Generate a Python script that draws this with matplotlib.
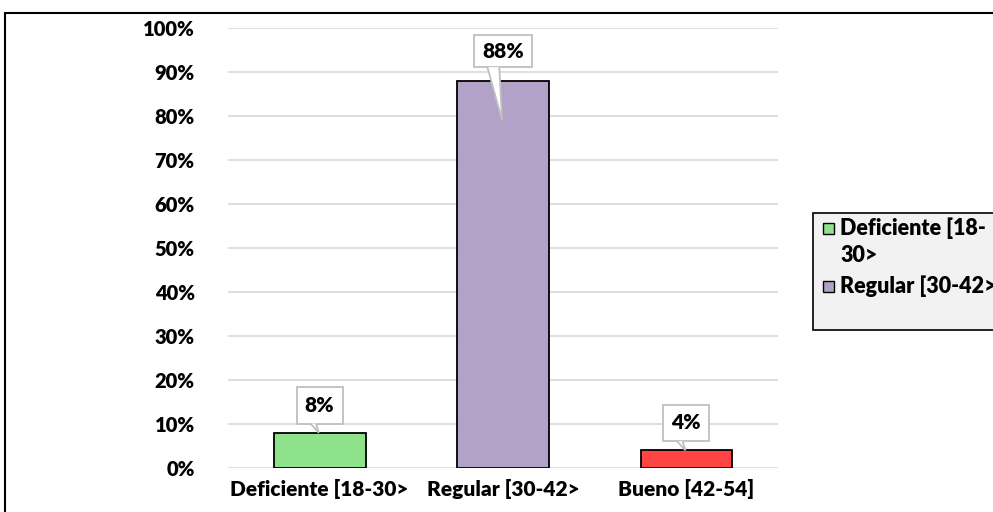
import matplotlib.pyplot as plt
from matplotlib.patches import Rectangle, Polygon
from matplotlib.ticker import PercentFormatter

# datos del grafico
categorias = ['Deficiente [18-30>', 'Regular [30-42>', 'Bueno [42-54]']
porcentajes = [8, 88, 4]
colores = ['#8ee28b', '#b3a2c8', '#ff4444']
etiquetas_leyenda = ['Deficiente [18-', '30>', 'Regular [30-42>']

peso = 'heavy'
plt.rcParams['font.family'] = ['Lato', 'DejaVu Sans']
plt.rcParams['font.weight'] = peso

W, H = 993, 512
fig = plt.figure(figsize=(W / 100, H / 100), dpi=100)
ax = fig.add_axes([228 / W, 44 / H, 550 / W, 440 / H])

x = list(range(len(categorias)))
barras = ax.bar(x, porcentajes, width=0.5, color=colores, edgecolor='black', linewidth=1.3, zorder=3)

ax.set_xlim(-0.5, 2.5)
ax.set_ylim(0, 100)
ax.set_yticks(range(0, 101, 10))
ax.yaxis.set_major_formatter(PercentFormatter(decimals=0))
ax.grid(axis='y', color='#d9d9d9', linewidth=1.2, zorder=0)
for s in ax.spines.values():
    s.set_visible(False)
ax.tick_params(length=0, labelsize=14.5, pad=24)
ax.tick_params(axis='x', pad=8)
ax.set_xticks(x)
ax.set_xticklabels(categorias, fontsize=15, fontweight=peso)
for lab in ax.get_yticklabels():
    lab.set_fontweight(peso)

# etiquetas tipo globo (caja + pico)
gris = '#bfbfbf'
for i, v in enumerate(porcentajes):
    txt = f'{v}%'
    ancho = 0.25 if len(txt) == 2 else 0.32
    if v < 50:
        base, alto, punta = v + 2.1, 8.3, v
    else:
        base, alto, punta = 91.1, 7.3, 79
    ax.add_patch(Rectangle((i - ancho / 2, base), ancho, alto, fc='white', ec=gris, lw=1.3, zorder=5))
    pico = [(i - 0.085 if v > 50 else i - 0.05, base), (i - 0.005, punta), (i - 0.02, base)]
    ax.add_patch(Polygon(pico, closed=False, fc='white', ec=gris, lw=1.3, zorder=6))
    ax.text(i, base + alto / 2, txt, ha='center', va='center', fontsize=15, fontweight=peso, zorder=7)

# leyenda (cuadro cortado por el borde como en el original)
fig.patches.append(Rectangle((813 / W, (H - 330) / H), 0.3, 117 / H, transform=fig.transFigure,
                             fc='#f2f2f2', ec='black', lw=1.2, clip_on=False, zorder=0))
filas_y = [228, 255, 286]
for j, lab in enumerate(etiquetas_leyenda):
    fig.text(840 / W, 1 - filas_y[j] / H, lab, ha='left', va='center', fontsize=15.5, fontweight=peso)
for j, idx in enumerate([0, 2]):
    yc = filas_y[idx]
    fig.patches.append(Rectangle((823 / W, 1 - (yc + 6) / H), 11 / W, 11 / H, transform=fig.transFigure,
                                 fc=colores[j], ec='black', lw=1))

# borde exterior
fig.patches.append(Rectangle((5 / W, -0.05), 1.2, (H - 13) / H + 0.05, transform=fig.transFigure,
                             fill=False, ec='black', lw=1.5, clip_on=False))

fig.savefig('out.png', dpi=100)
